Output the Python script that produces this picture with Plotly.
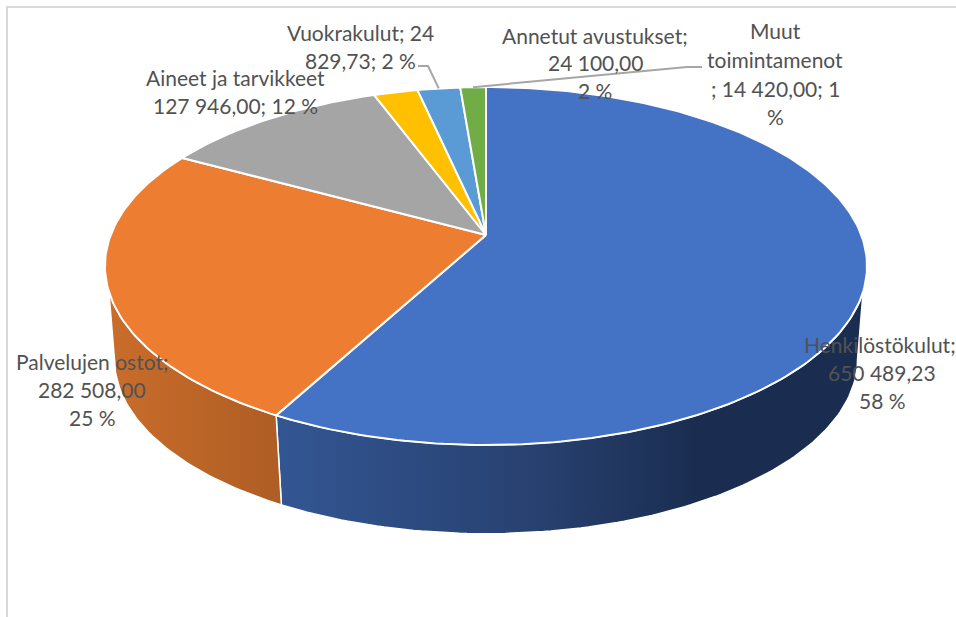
import numpy as np
import plotly.graph_objects as go

# --- data ---
categories = ["Henkilöstökulut", "Palvelujen ostot", "Aineet ja tarvikkeet",
              "Vuokrakulut", "Annetut avustukset", "Muut toimintamenot"]
values = [650489.23, 282508.00, 127946.00, 24829.73, 24100.00, 14420.00]
colors = ["#4472C4", "#ED7D31", "#A5A5A5", "#FFC000", "#5B9BD5", "#70AD47"]
wall_gradients = {
    0: [[0, "#335693"], [0.45, "#27406F"], [0.72, "#1A2D50"], [1, "#1A2D50"]],
    1: [[0, "#C96D2B"], [1, "#AE5D24"]],
}

# label lines: text, centre x, centre y (page pixels)
label_lines = [
    ("Henkilöstökulut;", 880, 344), ("650 489,23", 882, 372), ("58 %", 882, 400),
    ("Palvelujen ostot;", 92, 361), ("282 508,00", 92, 389), ("25 %", 92, 417),
    ("Aineet ja tarvikkeet", 235, 77), ("127 946,00; 12 %", 235, 105),
    ("Vuokrakulut; 24", 360, 32), ("829,73; 2 %", 360, 60),
    ("Annetut avustukset;", 595, 35), ("24 100,00", 595, 62), ("2 %", 595, 90),
    ("Muut", 775, 30), ("toimintamenot", 775, 59), ("; 14 420,00; 1", 775, 88), ("%", 775, 116),
]
# leader lines: slice index, label-side end, elbow
leaders = [(4, (418, 66), (428, 66)), (5, (702, 67), (687, 67))]

# --- projection of the tilted disc to page pixels ---
CX, CY, PERSP, AY, AX = 486.0, 235.0, 0.1732, 173.6, 375.3
DEPTH_Y, DEPTH_S = 329.0, 0.975
VIS_RIGHT_TOP, VIS_RIGHT_LOW, VIS_LEFT_TOP, VIS_LEFT_LOW = 108.0, 100.0, 252.0, 260.0


def top(deg):
    t = np.radians(deg)
    u, v = np.sin(t), np.cos(t)
    d = 1 + PERSP * v
    return CX + AX * u / d, CY - AY * v / d


def low(deg):
    x, y = top(deg)
    return CX + DEPTH_S * (x - CX), DEPTH_Y + DEPTH_S * (y - CY)


def arc(fn, a, b):
    n = max(3, int(abs(b - a)) + 2)
    return fn(np.linspace(a, b, n))


total = sum(values)
edges = np.concatenate([[0], np.cumsum(values) / total * 360])

fig = go.Figure()

# side walls
wall_spans = {0: (VIS_RIGHT_TOP, edges[1], VIS_RIGHT_LOW), 1: (edges[1], VIS_LEFT_TOP, VIS_LEFT_LOW)}
for i, (a, b, c) in wall_spans.items():
    if i == 0:
        ux, uy = arc(top, a, b)
        lx, ly = arc(low, b, c)
    else:
        ux, uy = arc(top, a, b)
        lx, ly = arc(low, c, a)
    fig.add_trace(go.Scatter(
        x=np.r_[ux, lx, ux[0]], y=np.r_[uy, ly, uy[0]], mode="lines", fill="toself",
        fillgradient=dict(type="horizontal", colorscale=wall_gradients[i]),
        line=dict(color="white", width=1.5), hoverinfo="skip", showlegend=False))

# top faces
for i, name in enumerate(categories):
    ax_, ay_ = arc(top, edges[i], edges[i + 1])
    fig.add_trace(go.Scatter(
        x=np.r_[CX, ax_, CX], y=np.r_[CY, ay_, CY], mode="lines", fill="toself",
        fillcolor=colors[i], line=dict(color="white", width=2), name=name,
        hoverinfo="name", showlegend=False))

# leader lines
for idx, end, elbow in leaders:
    px, py = top((edges[idx] + edges[idx + 1]) / 2)
    fig.add_trace(go.Scatter(
        x=[end[0], elbow[0], float(px)], y=[end[1], elbow[1], float(py)], mode="lines",
        line=dict(color="#A6A6A6", width=2), hoverinfo="skip", showlegend=False))

annotations = [dict(x=x, y=y, text=t, showarrow=False, xanchor="center", yanchor="middle",
                    font=dict(family="Lato", size=21, color="#525252"))
               for t, x, y in label_lines]

fig.update_layout(
    width=956, height=617, margin=dict(l=0, r=0, t=0, b=0),
    paper_bgcolor="white", plot_bgcolor="white", annotations=annotations,
    xaxis=dict(range=[0, 956], visible=False, domain=[0, 1]),
    yaxis=dict(range=[617, 0], visible=False, domain=[0, 1]),
    shapes=[
        dict(type="line", xref="x", yref="y", x0=7, x1=7, y0=6, y1=617,
             line=dict(color="#D9D9D9", width=2)),
        dict(type="line", xref="x", yref="y", x0=6, x1=956, y0=7, y1=7,
             line=dict(color="#D9D9D9", width=2)),
    ],
)
fig.write_html("out.html", config={"displayModeBar": False},
               post_script="document.body.style.margin='0';document.body.style.overflow='hidden';")
